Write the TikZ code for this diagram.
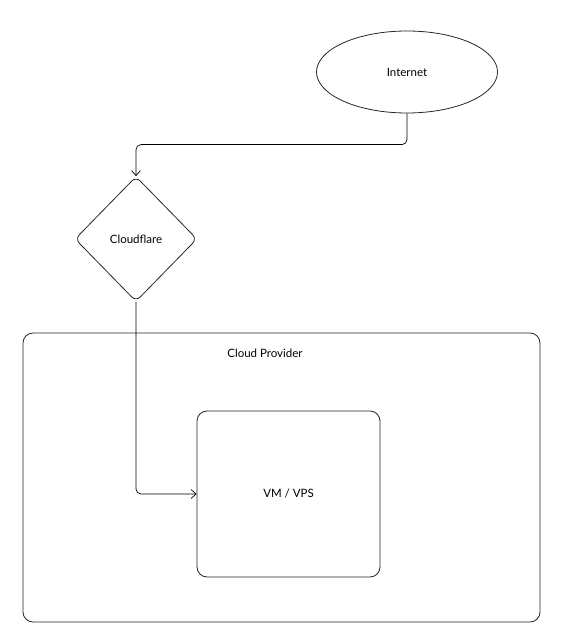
\documentclass[tikz,border=0pt]{standalone}
\usepackage{fontspec}
\setmainfont{Lato}
\usetikzlibrary{arrows.meta, positioning, shapes.geometric, calc}

\begin{document}
\begin{tikzpicture}[
    x=1pt, y=1pt,
    lbl/.style={font=\fontsize{11.5}{14}\selectfont},
    cloud/.style={ellipse, draw=black!85, line width=0.8pt, inner sep=0pt,
                  minimum width=181pt, minimum height=82pt, lbl},
    edge/.style={diamond, draw=black!85, line width=0.8pt, rounded corners=6pt,
                 minimum width=122pt, minimum height=125pt, lbl},
    region/.style={rectangle, rounded corners=10pt, draw=black!85, line width=0.8pt},
    server/.style={rectangle, rounded corners=10pt, draw=black!85, line width=0.8pt,
                   minimum width=183pt, minimum height=166pt, lbl},
    link/.style={-{Straight Barb[length=5pt, width=9pt]}, line width=0.7pt,
                 rounded corners=5pt},
]
\useasboundingbox (0,0) rectangle (571,641);

% Top: internet and cloudflare
\node[cloud] (internet) at (407,569) {Internet};
\node[edge] (cloudflare) at (136,402) {Cloudflare};

% Provider region
\draw[region] (23,19) rectangle (540,308);
\node[lbl] (provider) at (265,288) {Cloud Provider};
\node[server] (vps) at (288.5,147) {VM / VPS};

\draw[link] (internet.south) |- ($(cloudflare.north)+(0,31.5)$) -- (cloudflare.north);
\draw[link] (cloudflare.south) |- (vps.west);

\end{tikzpicture}
\end{document}
